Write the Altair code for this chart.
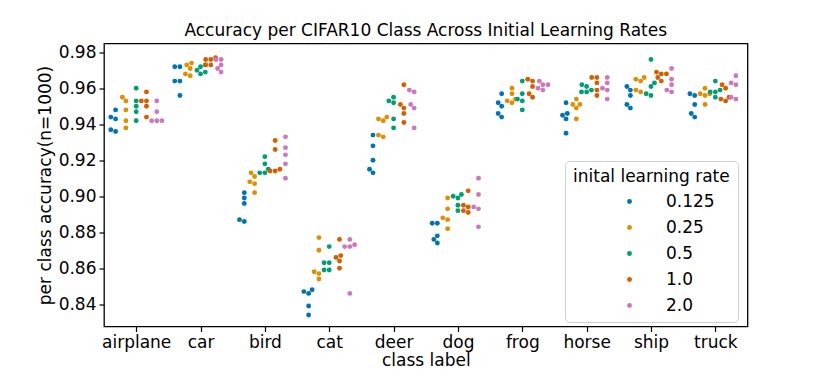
import altair as alt
import pandas as pd
import numpy as np

classes = ["airplane", "car", "bird", "cat", "deer", "dog", "frog", "horse", "ship", "truck"]
rates = ["0.125", "0.25", "0.5", "1.0", "2.0"]
colors = ["#0173b2", "#de8f05", "#029e73", "#d55e00", "#cc78bc"]

# accuracy per class (5 runs each), one list per initial learning rate
acc_lr_0125 = [
    [0.948, 0.944, 0.943, 0.937, 0.936],
    [0.972, 0.972, 0.964, 0.964, 0.956],
    [0.902, 0.899, 0.896, 0.887, 0.886],
    [0.848, 0.847, 0.846, 0.839, 0.834],
    [0.934, 0.928, 0.920, 0.915, 0.913],
    [0.885, 0.885, 0.878, 0.876, 0.874],
    [0.957, 0.952, 0.950, 0.946, 0.944],
    [0.952, 0.946, 0.945, 0.943, 0.935],
    [0.961, 0.959, 0.956, 0.951, 0.949],
    [0.957, 0.956, 0.951, 0.946, 0.944],
]
acc_lr_025 = [
    [0.955, 0.953, 0.948, 0.942, 0.938],
    [0.974, 0.973, 0.971, 0.968, 0.967],
    [0.913, 0.911, 0.908, 0.907, 0.902],
    [0.877, 0.870, 0.858, 0.857, 0.854],
    [0.944, 0.943, 0.942, 0.934, 0.933],
    [0.899, 0.893, 0.888, 0.887, 0.882],
    [0.960, 0.957, 0.954, 0.953, 0.952],
    [0.954, 0.951, 0.951, 0.949, 0.943],
    [0.966, 0.965, 0.964, 0.959, 0.958],
    [0.960, 0.957, 0.957, 0.956, 0.951],
]
acc_lr_05 = [
    [0.960, 0.953, 0.950, 0.947, 0.942],
    [0.973, 0.972, 0.970, 0.969, 0.968],
    [0.922, 0.918, 0.915, 0.913, 0.913],
    [0.872, 0.863, 0.863, 0.859, 0.859],
    [0.955, 0.953, 0.952, 0.943, 0.938],
    [0.901, 0.900, 0.899, 0.895, 0.892],
    [0.964, 0.957, 0.954, 0.953, 0.948],
    [0.962, 0.961, 0.959, 0.958, 0.958],
    [0.976, 0.963, 0.961, 0.957, 0.956],
    [0.964, 0.959, 0.958, 0.958, 0.955],
]
acc_lr_1 = [
    [0.958, 0.953, 0.953, 0.950, 0.944],
    [0.977, 0.976, 0.976, 0.973, 0.973],
    [0.931, 0.926, 0.915, 0.914, 0.914],
    [0.876, 0.867, 0.866, 0.864, 0.860],
    [0.962, 0.951, 0.949, 0.946, 0.941],
    [0.903, 0.895, 0.894, 0.892, 0.891],
    [0.965, 0.964, 0.961, 0.957, 0.955],
    [0.966, 0.966, 0.963, 0.959, 0.956],
    [0.969, 0.968, 0.968, 0.966, 0.964],
    [0.962, 0.960, 0.955, 0.954, 0.953],
]
acc_lr_2 = [
    [0.953, 0.947, 0.942, 0.942, 0.942],
    [0.976, 0.976, 0.973, 0.971, 0.969],
    [0.933, 0.927, 0.923, 0.918, 0.910],
    [0.876, 0.873, 0.872, 0.872, 0.846],
    [0.959, 0.958, 0.951, 0.949, 0.938],
    [0.910, 0.901, 0.894, 0.893, 0.883],
    [0.964, 0.962, 0.962, 0.960, 0.959],
    [0.966, 0.963, 0.960, 0.959, 0.954],
    [0.971, 0.965, 0.962, 0.959, 0.958],
    [0.967, 0.963, 0.962, 0.955, 0.954],
]
all_acc = [acc_lr_0125, acc_lr_025, acc_lr_05, acc_lr_1, acc_lr_2]

y_ticks = [0.84, 0.86, 0.88, 0.90, 0.92, 0.94, 0.96, 0.98]
Y_MIN, Y_MAX = 0.8276, 0.9849
W, H = 643.5, 283

# --- beeswarm layout (seaborn algorithm) computed in pixel space ---
px_x = W / len(classes)
px_y = H / (Y_MAX - Y_MIN)
R = 2.45


def beeswarm(vals, mid):
    order = np.argsort(vals, kind="stable")
    pts = [(mid, v * px_y, R) for v in np.asarray(vals)[order]]
    swarm = [pts[0]]
    for (x_i, y_i, r_i) in pts[1:]:
        neigh = []
        for (x_j, y_j, r_j) in reversed(swarm):
            if (y_i - y_j) < (r_i + r_j):
                neigh.append((x_j, y_j, r_j))
            else:
                break
        cands = [(x_i, y_i, r_i)]
        left_first = True
        for (x_j, y_j, r_j) in neigh:
            dy = y_i - y_j
            dx = np.sqrt(max((r_i + r_j) ** 2 - dy ** 2, 0)) * 1.05
            cl, cr = (x_j - dx, y_i, r_i), (x_j + dx, y_i, r_i)
            cands.extend([cl, cr] if left_first else [cr, cl])
            left_first = not left_first
        cands = sorted(cands, key=lambda c: abs(c[0] - mid))
        chosen = cands[0]
        if neigh:
            for c in cands:
                ok = all((nx - c[0]) ** 2 + (ny - c[1]) ** 2 >= (nr + c[2]) ** 2 - 1e-9
                         for (nx, ny, nr) in neigh)
                if ok:
                    chosen = c
                    break
        swarm.append(chosen)
    xs = np.empty(len(vals))
    for k, idx in enumerate(order):
        xs[idx] = swarm[k][0]
    return xs


rows = []
for h, (rate, accs) in enumerate(zip(rates, all_acc)):
    for c, cls in enumerate(classes):
        vals = accs[c]
        center = c + (-0.4 + 0.08 + 0.16 * h)
        xs_px = beeswarm(vals, center * px_x)
        half = 0.08 * px_x
        xs_px = np.clip(xs_px, center * px_x - half, center * px_x + half)
        for v, xp in zip(vals, xs_px):
            rows.append({"cls": cls, "rate": rate, "acc": v, "xpos": xp / px_x})
df = pd.DataFrame(rows)

label_expr = "[" + ",".join(f"'{c}'" for c in classes) + "][round(datum.value)]"

chart = alt.Chart(df).mark_circle(size=24, opacity=1).encode(
    x=alt.X("xpos:Q",
            scale=alt.Scale(domain=[-0.5, len(classes) - 0.5], nice=False, zero=False),
            axis=alt.Axis(values=list(range(len(classes))), labelExpr=label_expr,
                          title="class label", grid=False, domain=False,
                          tickColor="black", tickSize=5, tickWidth=1.2,
                          labelPadding=3, titlePadding=2, labelAngle=0)),
    y=alt.Y("acc:Q",
            scale=alt.Scale(domain=[Y_MIN, Y_MAX], nice=False, zero=False),
            axis=alt.Axis(values=y_ticks, format=".2f",
                          title="per class accuracy(n=1000)", grid=False, domain=False,
                          tickColor="black", tickSize=5, tickWidth=1.2,
                          labelPadding=3, titlePadding=4)),
    color=alt.Color("rate:N", scale=alt.Scale(domain=rates, range=colors),
                    legend=alt.Legend(title="inital learning rate", orient="none",
                                      legendX=461, legendY=117.5,
                                      fillColor="white", strokeColor="#d0d0d0",
                                      cornerRadius=4, padding=8,
                                      symbolType="circle", symbolSize=24,
                                      symbolOffset=48, labelOffset=28,
                                      rowPadding=8, titlePadding=7,
                                      titleFontWeight="normal", titleFontSize=17,
                                      labelFontSize=17, titleColor="black",
                                      labelColor="black", titleFont="DejaVu Sans",
                                      labelFont="DejaVu Sans")),
).properties(
    width=W, height=H,
    title=alt.TitleParams("Accuracy per CIFAR10 Class Across Initial Learning Rates",
                          fontSize=17, font="DejaVu Sans", fontWeight="normal",
                          anchor="middle", frame="group", offset=3, color="black"),
    autosize=alt.AutoSizeParams(type="none"),
    padding={"left": 96, "top": 35.5, "right": 70, "bottom": 48},
).configure_view(
    stroke="black", strokeWidth=1.3
).configure_axis(
    labelFont="DejaVu Sans", titleFont="DejaVu Sans", labelFontSize=17,
    titleFontSize=17, titleFontWeight="normal", labelColor="black", titleColor="black"
)

chart.save("out.html", embed_options={"renderer": "svg", "actions": False})
